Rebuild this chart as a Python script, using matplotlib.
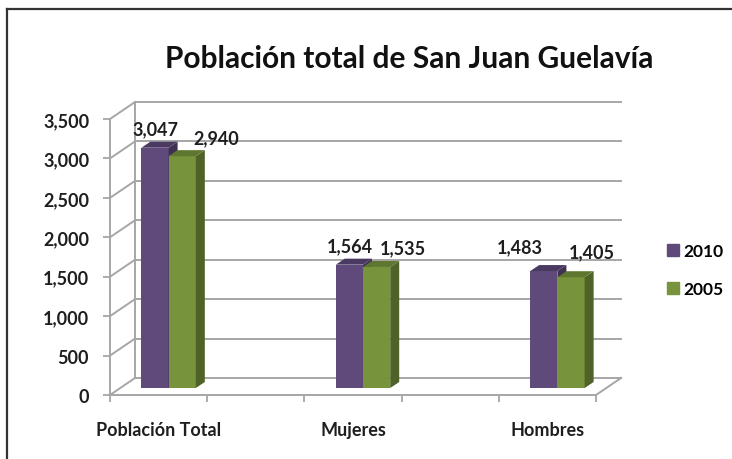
import matplotlib
matplotlib.use("Agg")
import matplotlib.pyplot as plt
from matplotlib.patches import Polygon, Patch
from matplotlib.lines import Line2D
from matplotlib.transforms import ScaledTranslation

categories = ["Población Total", "Mujeres", "Hombres"]
series_names = ["2010", "2005"]
values_2010 = [3047, 1564, 1483]
values_2005 = [2940, 1535, 1405]
y_ticks = [0, 500, 1000, 1500, 2000, 2500, 3000, 3500]
cat_pos = [0, 2, 4]

plt.rcParams["font.family"] = ["Lato", "DejaVu Sans"]

W, H = 732, 460
fig = plt.figure(figsize=(W / 100, H / 100), dpi=100)
ax = fig.add_axes([110 / W, 1 - 396 / H, 486 / W, 276 / H])
ax.set_xlim(-0.5, 4.5)
ax.set_ylim(0, 3500)

grid_c = "#a6a6a6"
txt_c = "#1e1e1e"
for s in ["top", "right"]:
    ax.spines[s].set_visible(False)
for s in ["left", "bottom"]:
    ax.spines[s].set_color(grid_c)
    ax.spines[s].set_linewidth(1.4)

ax.set_yticks(y_ticks)
ax.set_yticklabels([f"{v:,}" for v in y_ticks], fontsize=13, fontweight="bold", color=txt_c)
ax.tick_params(axis="y", length=5, color=grid_c, width=1.3, pad=10)
ax.set_xticks([-0.5, 0.5, 1.5, 2.5, 3.5, 4.5])
ax.set_xticklabels([])
ax.set_xticks(cat_pos, minor=True)
ax.set_xticklabels(categories, minor=True, fontsize=13, fontweight="bold", color=txt_c)
ax.tick_params(axis="x", which="major", length=5, color=grid_c, width=1.3)
ax.tick_params(axis="x", which="minor", length=0, pad=19)

# 3D helpers: depth offsets in pixels
wall_dx, wall_dy = 25, 17
bar_dx, bar_dy = 10, 7
depth_dx, depth_dy = 9, 6
inv = fig.transFigure.inverted()


def to_fig(x, y, dx=0, dy=0):
    px, py = ax.transData.transform((x, y))
    return inv.transform((px + dx, py + dy))


def fig_line(p0, p1):
    ax.add_line(Line2D([p0[0], p1[0]], [p0[1], p1[1]], transform=fig.transFigure,
                       color=grid_c, lw=1.4, clip_on=False, zorder=1))


# walls
for v in y_ticks:
    fig_line(to_fig(-0.5, v, wall_dx, wall_dy), to_fig(4.5, v, wall_dx, wall_dy))
    fig_line(to_fig(-0.5, v), to_fig(-0.5, v, wall_dx, wall_dy))
fig_line(to_fig(-0.5, 0, wall_dx, wall_dy), to_fig(-0.5, 3500, wall_dx, wall_dy))
fig_line(to_fig(4.5, 0), to_fig(4.5, 0, wall_dx, wall_dy))

# bars
width = 0.28
colors = [("#5f4a7b", "#4a3a61", "#3f3152"), ("#77933c", "#5e7630", "#4f6228")]
series = [values_2010, values_2005]
shift = ScaledTranslation(bar_dx / 100, bar_dy / 100, fig.dpi_scale_trans)
label_shift = [[(0, 19), (0, 19), (-24, 24)], [(34, 18), (26, 19), (21, 25)]]

for j in range(len(categories)):
    for i, vals in enumerate(series):
        front, top, side = colors[i]
        x0 = cat_pos[j] - width + i * width
        x1 = x0 + width
        v = vals[j]
        ax.bar(x0, v, width=width, align="edge", color=front, transform=ax.transData + shift,
               zorder=3, clip_on=False)
        d = (bar_dx + depth_dx, bar_dy + depth_dy)
        side_pts = [to_fig(x1, 0, bar_dx, bar_dy), to_fig(x1, 0, *d),
                    to_fig(x1, v, *d), to_fig(x1, v, bar_dx, bar_dy)]
        ax.add_patch(Polygon(side_pts, closed=True, transform=fig.transFigure, color=side,
                             zorder=3, clip_on=False, lw=0))
        top_pts = [to_fig(x0, v, bar_dx, bar_dy), to_fig(x1, v, bar_dx, bar_dy),
                   to_fig(x1, v, *d), to_fig(x0, v, *d)]
        ax.add_patch(Polygon(top_pts, closed=True, transform=fig.transFigure, color=top,
                             zorder=3, clip_on=False, lw=0))
        lx, ly = label_shift[i][j]
        pos = to_fig((x0 + x1) / 2, v, bar_dx + lx, bar_dy + ly)
        fig.text(pos[0], pos[1], f"{v:,}", ha="center", va="center", fontsize=13,
                 fontweight="bold", color=txt_c)

# legend
handles = [Patch(color=colors[0][0]), Patch(color=colors[1][0])]
fig.legend(handles, series_names, loc="center left", bbox_to_anchor=(667 / W, 1 - 271 / H),
           frameon=False, prop={"size": 12.5, "weight": "bold"}, handlelength=0.7,
           handleheight=0.7, handletextpad=0.25, labelspacing=1.3, borderpad=0,
           borderaxespad=0)

fig.text(409 / W, 1 - 59 / H, "Población total de San Juan Guelavía", ha="center",
         va="center", fontsize=21.5, fontweight="bold", color="#111111")

# outer frame (left and top edges visible)
fig.add_artist(Line2D([7 / W, 7 / W], [0, 1 - 10 / H], transform=fig.transFigure,
                      color="#333333", lw=1.6))
fig.add_artist(Line2D([7 / W, 1], [1 - 10 / H, 1 - 10 / H], transform=fig.transFigure,
                      color="#333333", lw=1.6))

fig.savefig("out.png", dpi=100)
